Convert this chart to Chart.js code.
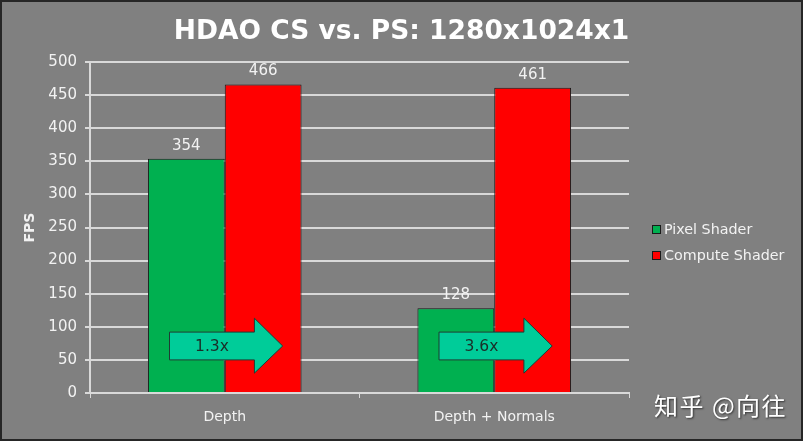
<!DOCTYPE html>
<html>
<head>
<meta charset="utf-8">
<script src="https://cdn.jsdelivr.net/npm/chart.js@4.4.1/dist/chart.umd.min.js"></script>
<style>
    html, body {
        margin: 0;
        padding: 0;
        background: #808080;
    }
    #wrap {
        position: relative;
        width: 803px;
        height: 441px;
        box-sizing: border-box;
        border: 2px solid #262626;
        background: #808080;
        font-family: 'DejaVu Sans', Verdana, sans-serif;
    }
    #chart {
        display: block;
    }
    #title {
        position: absolute;
        left: 0;
        top: 12px;
        width: 799px;
        text-align: center;
        color: #ffffff;
        font-weight: bold;
        font-size: 26.5px;
        line-height: 32px;
    }
    .legend {
        position: absolute;
        left: 650px;
        color: #f2f2f2;
        font-size: 14.3px;
        line-height: 18px;
    }
    .legend i {
        display: inline-block;
        width: 7px;
        height: 7px;
        border: 1px solid #1a1a1a;
        margin-right: 3px;
        vertical-align: 0px;
    }
    #mark {
        position: absolute;
        left: 652px;
        top: 386px;
        color: #ffffff;
        font-family: 'Noto Sans CJK SC', sans-serif;
        font-size: 24px;
        letter-spacing: 1.5px;
        line-height: 34px;
        text-shadow: 1px 1px 2px #333;
    }
</style>
</head>
<body>
<div id="wrap">
    <canvas id="chart" width="799" height="437"></canvas>
    <div id="title">HDAO CS vs. PS: 1280x1024x1</div>
    <div class="legend" style="top: 218px;"><i style="background:#00b050"></i>Pixel Shader</div>
    <div class="legend" style="top: 244px;"><i style="background:#ff0000"></i>Compute Shader</div>
    <div id="mark">知乎 @向往</div>
</div>
<script>
// chart data
const categories = ['Depth', 'Depth + Normals'];
const pixelShader = [354, 128];
const computeShader = [466, 461];
const speedups = ['1.3x', '3.6x'];

const GREEN = '#00b050';
const RED = '#ff0000';
const GRID = '#d9d9d9';
const TEXT = '#f2f2f2';

/**
 * Value labels above every bar
 */
const valueLabels = {
    id: 'valueLabels',
    afterDatasetsDraw(chart) {
        const ctx = chart.ctx;
        ctx.save();
        ctx.fillStyle = TEXT;
        ctx.font = '15px "DejaVu Sans"';
        ctx.textAlign = 'center';
        ctx.textBaseline = 'middle';
        chart.data.datasets.forEach((ds, i) => {
            chart.getDatasetMeta(i).data.forEach((bar, j) => {
                ctx.fillText(String(ds.data[j]), bar.x, bar.y - 13);
            });
        });
        ctx.restore();
    }
};

/**
 * Speedup arrows over the bar pairs
 */
const speedArrows = {
    id: 'speedArrows',
    afterDatasetsDraw(chart) {
        const ctx = chart.ctx;
        const x = chart.scales.x;
        const y = chart.scales.y;
        const cw = x.getPixelForValue(1) - x.getPixelForValue(0);

        ctx.save();
        speedups.forEach((label, i) => {
            const cx = x.getPixelForValue(i);
            const x0 = cx - cw * 0.205;
            const xb = cx + cw * 0.11;
            const xt = cx + cw * 0.215;
            const bTop = y.getPixelForValue(92);
            const bBot = y.getPixelForValue(50);
            const hTop = y.getPixelForValue(113);
            const hBot = y.getPixelForValue(30);
            const mid = (bTop + bBot) / 2;

            ctx.beginPath();
            ctx.moveTo(x0, bTop);
            ctx.lineTo(xb, bTop);
            ctx.lineTo(xb, hTop);
            ctx.lineTo(xt, mid);
            ctx.lineTo(xb, hBot);
            ctx.lineTo(xb, bBot);
            ctx.lineTo(x0, bBot);
            ctx.closePath();
            ctx.fillStyle = '#00cc99';
            ctx.fill();
            ctx.lineWidth = 1;
            ctx.strokeStyle = '#1f3d33';
            ctx.stroke();

            ctx.fillStyle = '#1a2e28';
            ctx.font = '15.5px "DejaVu Sans"';
            ctx.textAlign = 'center';
            ctx.textBaseline = 'middle';
            ctx.fillText(label, (x0 + xb) / 2, mid + 1);
        });
        ctx.restore();
    }
};

new Chart(document.getElementById('chart'), {
    type: 'bar',
    data: {
        labels: categories,
        datasets: [{
            label: 'Pixel Shader',
            data: pixelShader,
            backgroundColor: GREEN,
            borderColor: '#1a1a1a',
            borderWidth: 1
        }, {
            label: 'Compute Shader',
            data: computeShader,
            backgroundColor: RED,
            borderColor: '#1a1a1a',
            borderWidth: 1
        }]
    },
    options: {
        responsive: false,
        animation: false,
        categoryPercentage: 0.57,
        barPercentage: 1.0,
        layout: {
            padding: { left: 0, right: 172, top: 60, bottom: 0 }
        },
        plugins: {
            legend: { display: false },
            tooltip: { enabled: false }
        },
        scales: {
            x: {
                grid: {
                    offset: true,
                    drawOnChartArea: false,
                    color: GRID,
                    tickLength: 5
                },
                border: { color: GRID, width: 2 },
                ticks: {
                    color: TEXT,
                    padding: 11,
                    font: { family: 'DejaVu Sans', size: 14 }
                },
                afterFit(scale) { scale.height = 46; }
            },
            y: {
                min: 0,
                max: 500,
                ticks: {
                    stepSize: 50,
                    color: TEXT,
                    padding: 8,
                    font: { family: 'DejaVu Sans', size: 15 }
                },
                grid: {
                    color: GRID,
                    lineWidth: 2,
                    tickLength: 5
                },
                border: { color: GRID, width: 2 },
                title: {
                    display: true,
                    text: 'FPS',
                    color: TEXT,
                    font: { family: 'DejaVu Sans', size: 14, weight: 'bold' },
                    padding: { top: 20, bottom: 0 }
                },
                afterFit(scale) { scale.width = 88; }
            }
        }
    },
    plugins: [valueLabels, speedArrows]
});
</script>
</body>
</html>
